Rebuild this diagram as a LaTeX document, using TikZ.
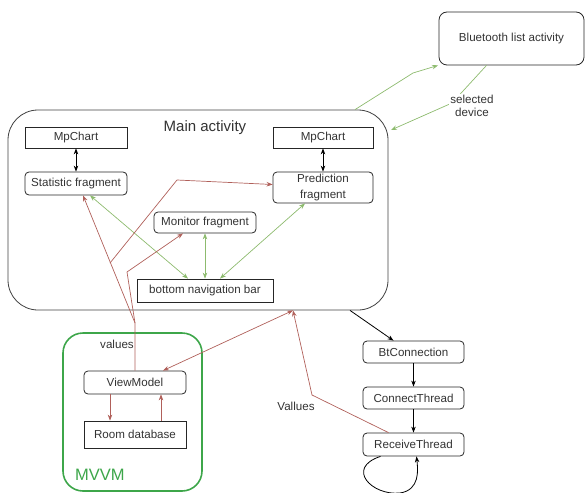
\documentclass[tikz,border=0pt]{standalone}
\usepackage{fontspec}
\setmainfont{Liberation Sans}
\usetikzlibrary{arrows.meta,calc}
\definecolor{txt}{HTML}{333333}
\definecolor{redl}{HTML}{B0605A}
\definecolor{greenl}{HTML}{8DBB6E}
\definecolor{mvvmg}{HTML}{3DA64A}
\begin{document}
\begin{tikzpicture}[x=1pt,y=-1pt,
  every node/.style={text=txt,font=\fontsize{11.6}{13}\selectfont,inner sep=0pt},
  sqbox/.style={draw=black!85,line width=0.8pt,minimum width=#1},
  rbox/.style={draw=black!85,line width=0.8pt,rounded corners=4pt,minimum width=#1},
  tip/.style={-{Stealth[length=6pt,width=4.5pt]}},
  tips/.style={{Stealth[length=6pt,width=4.5pt]}-{Stealth[length=6pt,width=4.5pt]}},
  rline/.style={draw=redl,line width=0.7pt},
  gline/.style={draw=greenl,line width=0.7pt},
  bline/.style={draw=black,line width=0.8pt}]
\useasboundingbox (0,0) rectangle (585,492);
% containers
\node[draw=black!75,line width=0.8pt,rounded corners=30pt,minimum width=380pt,minimum height=200pt] (main) at (198,210) {};
\node[font=\fontsize{15}{17}\selectfont] (mainlbl) at (205,128) {Main activity};
\node[draw=black!85,line width=0.8pt,rounded corners=8pt,minimum width=145pt,minimum height=53pt] (bt) at (511.5,38.5) {Bluetooth list activity};
\node[draw=mvvmg,line width=1.6pt,rounded corners=20pt,minimum width=139pt,minimum height=158pt] (mvvm) at (132.5,412) {};
\node[text=mvvmg,font=\fontsize{16.5}{18}\selectfont,anchor=west] (mvvmlbl) at (75,475) {MVVM};
% inner nodes
\node[sqbox=102pt,minimum height=21pt] (mp1) at (76,137.5) {MpChart};
\node[rbox=102pt,minimum height=23pt] (stat) at (76,183.5) {Statistic fragment};
\node[sqbox=100pt,minimum height=21pt] (mp2) at (323,137.5) {MpChart};
\node[rbox=100pt,minimum height=31pt,align=center,font=\fontsize{11.6}{16}\selectfont] (pred) at (323,187.5) {Prediction\\fragment};
\node[rbox=102pt,minimum height=21pt] (mon) at (205,222.5) {Monitor fragment};
\node[sqbox=136pt,minimum height=23pt] (nav) at (205,290.5) {bottom navigation bar};
\node[rbox=102pt,minimum height=23pt] (vm) at (135,382.5) {ViewModel};
\node[sqbox=102pt,minimum height=27pt] (room) at (135,434.5) {Room database};
\node[rbox=101pt,minimum height=22pt] (btc) at (413.5,352) {BtConnection};
\node[rbox=101pt,minimum height=22pt] (ct) at (413.5,398) {ConnectThread};
\node[rbox=101pt,minimum height=23pt] (rt) at (413.5,444.5) {ReceiveThread};
% labels
\node (vals) at (117,344) {values};
\node (valls) at (296,406) {Vallues};
% black arrows
\draw[bline,tips] (mp1.south) -- (stat.north);
\draw[bline,tips] (mp2.south) -- (pred.north);
\draw[bline,tip] ([xshift=152pt]main.south) -- ([xshift=-20pt]btc.north);
\draw[bline,tip] (btc.south) -- (ct.north);
\draw[bline,tip] (ct.south) -- (rt.north);
\draw[bline,tip] ([xshift=-33pt]rt.south) .. controls (345,468) and (372,496) .. (400,493) .. controls (420,490) and (418,470) .. ([xshift=3pt]rt.south);
% green arrows
\draw[gline,tips] ([xshift=14pt]stat.south) -- ([xshift=-17pt]nav.north);
\draw[gline,tips] (mon.south) -- (nav.north);
\draw[gline,tips] ([xshift=-18pt]pred.south) -- ([xshift=15pt]nav.north);
\coordinate (g1) at (413,73);
\draw[gline,tip] ([xshift=157pt]main.north) -- (g1) -- ([xshift=-73.5pt]bt.south);
\coordinate (g2) at (452,103);
\coordinate (sd) at (391,130);
\draw[gline,tip] ([xshift=-25pt]bt.south) -- (g2) -- (sd);
\node[fill=white,align=center,font=\fontsize{11.6}{13.5}\selectfont,inner sep=1pt] (sel) at (472,106) {selected\\device};
% red arrows
\coordinate (j) at (135,323);
\coordinate (b1) at (127,272);
\coordinate (c1) at (110,263);
\coordinate (c2) at (177,180);
\coordinate (r1) at (312,395);
\draw[rline,tip] (vm.north) -- (j) -- ([xshift=7pt]stat.south);
\draw[rline,tip] (j) -- (b1) -- ([xshift=-22pt]mon.south);
\draw[rline,tip] (c1) -- (c2) -- ([yshift=3pt]pred.west);
\draw[rline,tips] ([xshift=28pt]vm.north) -- ([xshift=95pt]main.south);
\draw[rline,tip] ([xshift=-25pt]rt.north) -- (r1) -- ([xshift=95pt]main.south);
\draw[rline,tip] ([xshift=-25pt]vm.south) -- ([xshift=-25pt]room.north);
\draw[rline,tip] ([xshift=26pt]room.north) -- ([xshift=26pt]vm.south);
\end{tikzpicture}
\end{document}
